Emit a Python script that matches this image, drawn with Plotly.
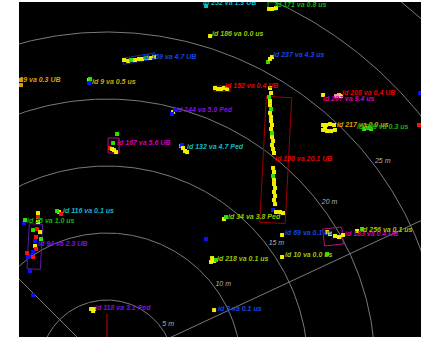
import numpy as np
import plotly.graph_objects as go

# ---------------- data (metres, sensor at origin) ----------------
ring_radii = [5, 10, 15, 20, 25, 30, 35, 40]
ring_label_radii = [5, 10, 15, 20, 25]
ring_labels = ["5 m", "10 m", "15 m", "20 m", "25 m"]
radial_angles_deg = [25, 135]
ego_x = [0.0, 0.0]
ego_y = [0.0, 4.0]

obj_labels = [
    "id 252 va 1.3 UB", "id 171 va 0.8 us", "id 186 va 0.0 us", "id 159 va 4.7 UB",
    "id 29 va 0.3 UB", "id 9 va 0.5 us", "id 237 va 4.3 us", "id 152 va 0.4 UB",
    "id 208 va 0.4 UB", "id 207 va 9.4 us", "id 144 va 5.0 Ped", "id 217 va 0.0 us",
    "id 269 va 0.3 us", "id 167 va 5.6 UB", "id 132 va 4.7 Ped", "id 168 va 20.1 UB",
    "id 116 va 0.1 us", "id 35 va 1.0 us", "id 94 va 2.3 UB", "id 34 va 3.8 Ped",
    "id 69 va 0.1 us", "id 183 va 0.4 UB", "id 256 va 0.1 us", "id 218 va 0.1 us",
    "id 10 va 0.0 us", "id 3 va 0.1 us", "id 118 va 3.1 Ped",
]
obj_x = [7.16, 12.54, 7.84, 2.69, -7.16, -1.12, 12.39, 8.81, 17.54, 16.12, 5.15, 17.16,
         18.66, 0.75, 5.97, 12.54, -3.28, -5.97, -5.15, 9.03, 13.28, 17.76, 18.96, 8.21,
         13.28, 8.28, -0.90]
obj_y = [27.16, 27.01, 24.85, 23.13, 21.42, 21.27, 23.28, 20.97, 20.45, 20.00, 19.18, 18.06,
         17.91, 16.72, 16.42, 15.52, 11.64, 10.90, 9.18, 11.19, 10.00, 9.93, 10.22, 8.06,
         8.36, 4.33, 4.40]
obj_group = ["cyan", "green", "olive", "blue", "gold", "gold", "blue", "red",
             "red", "magenta", "purple", "gold", "green", "magenta", "cyan", "red",
             "cyan", "green", "purple", "olive", "blue", "magenta", "olive", "olive",
             "olive", "blue", "purple"]

box_cx = [2.39, 8.58, 0.49, 12.59, -5.39, 16.87, 12.35]
box_cy = [23.02, 20.78, 16.53, 15.45, 8.99, 9.74, 26.94]
box_len = [2.46, 1.20, 1.12, 9.40, 3.36, 1.42, 0.67]
box_wid = [0.45, 0.40, 0.82, 1.90, 1.00, 1.27, 0.60]
box_heading_deg = [10, 0, 90, 87, 87, 6, 0]
box_group = ["darkblue", "red", "magenta", "darkred", "purple", "magenta", "green"]

det_x = [
    # id 168
    12.16, 12.24, 12.09, 12.16, 12.16, 12.24, 12.16, 12.24, 12.24, 12.31, 12.24, 12.31,
    12.31, 12.39, 12.31, 12.39, 12.46, 12.39, 12.46, 12.39, 12.46, 12.46, 12.54, 12.46,
    12.54, 12.46, 12.54, 12.39, 12.61, 12.91, 13.13,
    # id 159
    1.27, 1.57, 1.79, 2.09, 2.39, 2.61, 2.91, 3.21, 3.51,
    # ids 29, 9, 252, 171, 186, 237
    -6.42, -6.42, -1.34, -1.34, -1.27, 7.39, 12.09, 12.31, 12.61, 7.69, 12.01, 12.16, 12.31,
    # id 152, 208/207, edge
    8.06, 8.28, 8.51, 8.73, 8.96, 16.12, 17.09, 17.31, 17.46, 23.36, 23.28,
    # id 144, 217, 269
    4.93, 5.07, 4.85, 16.12, 16.34, 16.64, 16.94, 16.12, 16.42, 16.72, 17.01, 16.27,
    19.18, 19.48, 19.70,
    # id 167, 132
    0.75, 0.45, 0.22, 0.37, 0.52, 0.67, 5.52, 5.60, 5.67, 5.82, 5.97,
    # id 116, 35
    -3.58, -3.43, -3.73, -5.15, -5.15, -6.19, -6.12,
    # id 94
    -5.15, -5.52, -5.22, -5.00, -4.93, -5.30, -5.37, -5.37, -5.30, -5.52, -5.67, -5.97,
    -5.90, -5.52, -5.75, -5.52,
    # id 34, 69, 183, 256, 218, 10, 3, 118, misc
    8.73, 8.88, 13.06, 16.42, 16.64, 17.01, 17.31, 17.61, 18.66, 19.03,
    7.84, 7.99, 8.13, 7.76, 13.06, 16.42, 7.99, -1.19, -1.04, -0.97, 7.39,
]
det_y = [
    20.82, 20.45, 20.15, 19.85, 19.55, 19.25, 18.96, 18.66, 18.36, 18.06, 17.76, 17.46,
    17.16, 16.87, 16.57, 16.27, 15.97, 14.85, 14.55, 14.25, 13.96, 13.66, 13.36, 13.06,
    12.76, 12.46, 12.16, 11.72, 11.57, 11.57, 11.49,
    22.91, 22.84, 22.91, 22.91, 22.99, 22.99, 23.06, 23.06, 23.13,
    21.42, 21.04, 21.42, 21.19, 21.49, 26.94, 26.72, 26.72, 26.79, 24.70, 22.76, 22.99, 23.13,
    20.82, 20.75, 20.75, 20.82, 20.75, 20.30, 20.22, 20.30, 20.22, 20.45, 18.06,
    19.03, 19.18, 18.88, 18.06, 18.06, 18.13, 18.06, 17.69, 17.61, 17.61, 17.69, 17.84,
    17.76, 17.84, 17.76,
    17.39, 16.72, 16.34, 16.27, 16.19, 16.04, 16.49, 16.57, 16.34, 16.12, 16.04,
    11.57, 11.42, 11.64, 11.49, 11.19, 10.75, 10.97,
    10.82, 10.22, 10.30, 10.07, 9.55, 9.70, 9.40, 9.03, 8.81, 8.58, 8.28, 8.51,
    8.21, 8.21, 7.16, 5.37,
    11.04, 11.19, 9.85, 10.07, 9.93, 9.78, 9.70, 9.85, 10.15, 10.30,
    8.13, 7.91, 7.99, 7.84, 8.21, 8.43, 4.25, 4.33, 4.18, 4.33, 9.55,
]
det_kind = [
    "Y", "Y", "G", "Y", "Y", "G", "Y", "Y", "Y", "Y", "Y", "G",
    "Y", "Y", "Y", "Y", "Y", "Y", "Y", "G", "Y", "Y", "Y", "Y",
    "Y", "Y", "Y", "B", "Y", "Y", "Y",
    "Y", "Y", "G", "Y", "Y", "Y", "G", "Y", "Y",
    "O", "O", "Y", "B", "G", "C", "Y", "Y", "Y", "Y", "G", "Y", "Y",
    "Y", "Y", "Y", "Y", "Y", "Y", "P", "P", "Y", "B", "R",
    "Y", "B", "B", "Y", "Y", "Y", "Y", "Y", "Y", "Y", "Y", "Y",
    "G", "G", "G",
    "G", "G", "R", "Y", "Y", "Y", "G", "B", "Y", "Y", "Y",
    "Y", "R", "G", "Y", "R", "B", "G",
    "Y", "G", "R", "Y", "G", "R", "B", "Y", "R", "B", "B", "R",
    "B", "R", "B", "B",
    "Y", "G", "Y", "Y", "Y", "Y", "Y", "Y", "Y", "G",
    "Y", "Y", "G", "Y", "Y", "G", "Y", "Y", "Y", "Y", "B",
]

# ---------------- styles ----------------
label_palette = {
    "cyan": "#10b8c8", "green": "#18b018", "olive": "#98c800", "blue": "#1448e0",
    "gold": "#d8a400", "red": "#e80000", "magenta": "#d000b8", "purple": "#8410d8",
}
box_palette = {
    "darkblue": "#1a30a8", "red": "#c00000", "magenta": "#b01090", "darkred": "#a00000",
    "purple": "#5c1aa0", "green": "#20a020",
}
det_palette = {"Y": "#f0f000", "G": "#30e000", "R": "#ff1010", "B": "#1010ff",
               "C": "#10c0c0", "O": "#d8a000", "P": "#ff9898"}
GRID = "#7a7a7a"

fig = go.Figure()

# rings
theta = np.linspace(0, 2 * np.pi, 721)
for r in ring_radii:
    fig.add_trace(go.Scatter(x=r * np.cos(theta), y=r * np.sin(theta), mode="lines",
                             line=dict(color=GRID, width=1), hoverinfo="skip"))
# radial lines
for a in radial_angles_deg:
    ar = np.deg2rad(a)
    fig.add_trace(go.Scatter(x=[0, 60 * np.cos(ar)], y=[0, 60 * np.sin(ar)], mode="lines",
                             line=dict(color=GRID, width=1), hoverinfo="skip"))
# ring labels
la = np.deg2rad(37.5)
fig.add_trace(go.Scatter(
    x=[(r + 0.2) * np.cos(la) for r in ring_label_radii],
    y=[(r + 0.2) * np.sin(la) for r in ring_label_radii],
    mode="text", text=ring_labels, textposition="middle right",
    textfont=dict(family="Liberation Sans", size=7, color="#b4b4b4", style="italic"),
    hoverinfo="skip"))

# ego heading
fig.add_trace(go.Scatter(x=ego_x, y=ego_y, mode="lines",
                         line=dict(color="#8a0000", width=1.5), hoverinfo="skip"))

# boxes
for cx, cy, L, W, h, g in zip(box_cx, box_cy, box_len, box_wid, box_heading_deg, box_group):
    hr = np.deg2rad(h)
    ux, uy = np.cos(hr), np.sin(hr)
    vx, vy = -uy, ux
    cs = [(L / 2, W / 2), (-L / 2, W / 2), (-L / 2, -W / 2), (L / 2, -W / 2), (L / 2, W / 2)]
    fig.add_trace(go.Scatter(
        x=[cx + a * ux + b * vx for a, b in cs], y=[cy + a * uy + b * vy for a, b in cs],
        mode="lines", line=dict(color=box_palette[g], width=1), hoverinfo="skip"))

# detections
fig.add_trace(go.Scatter(
    x=det_x, y=det_y, mode="markers",
    marker=dict(symbol="square", size=4, color=[det_palette[k] for k in det_kind],
                line=dict(width=0)),
    hoverinfo="skip"))

# object labels
fig.add_trace(go.Scatter(
    x=obj_x, y=obj_y, mode="text", text=obj_labels, textposition="middle right",
    textfont=dict(family="Liberation Sans", size=7, weight="bold", style="italic",
                  color=[label_palette[g] for g in obj_group]),
    hoverinfo="skip"))

fig.update_layout(
    width=421, height=337,
    margin=dict(l=19, r=0, t=2, b=0, pad=0),
    paper_bgcolor="white", plot_bgcolor="black",
    showlegend=False,
    xaxis=dict(range=[-6.57, 23.43], visible=False, fixedrange=True),
    yaxis=dict(range=[2.24, 27.24], visible=False, fixedrange=True),
)

fig.write_html("out.html")
